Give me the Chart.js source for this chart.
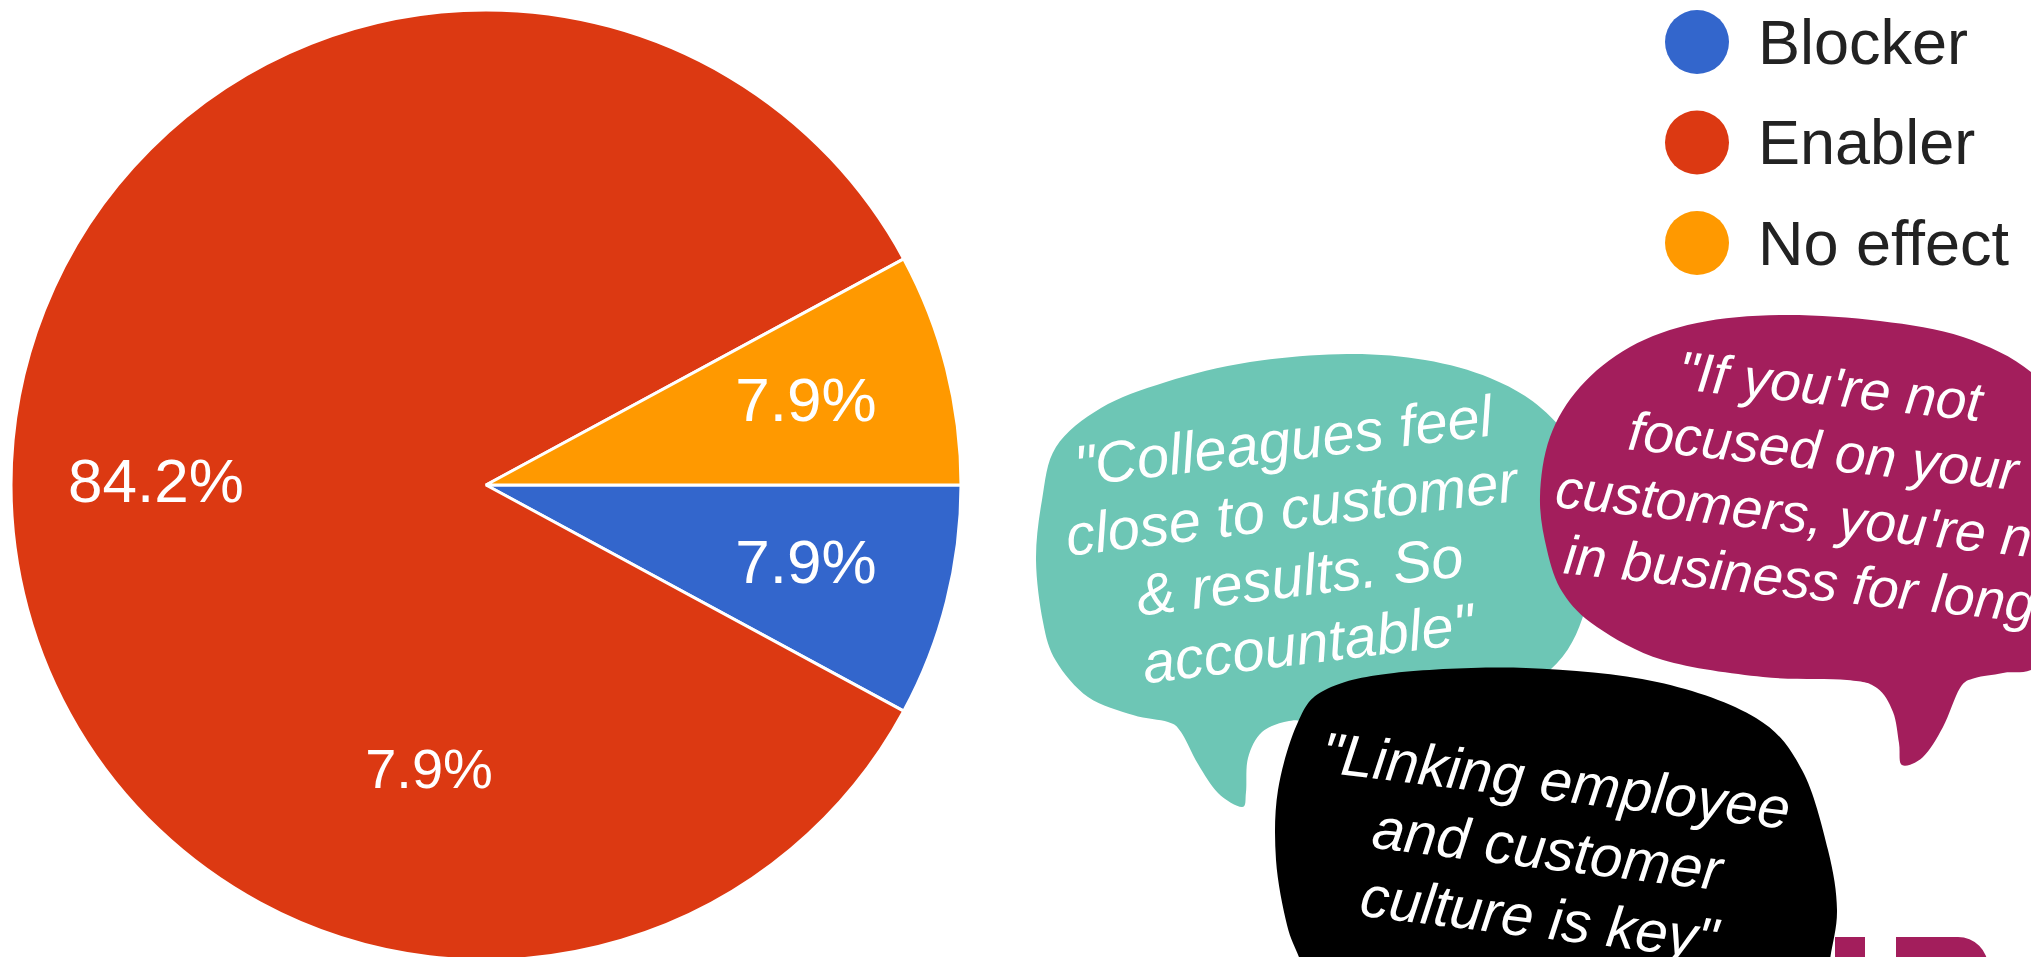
<!DOCTYPE html>
<html lang="en">
<head>
  <meta charset="utf-8">
  <title>Customer focus: blocker or enabler?</title>
  <style>
    html, body {
      margin: 0;
      padding: 0;
      background: #fff;
    }
    .stage {
      position: relative;
      width: 2031px;
      height: 957px;
      overflow: hidden;
    }
    #pieChart, #quotes {
      position: absolute;
      left: 0;
      top: 0;
    }
    #quotes text {
      font-family: "Liberation Sans", Arial, sans-serif;
      fill: #fff;
      text-anchor: middle;
    }
    #quotes .quote text {
      font-style: italic;
    }
  </style>
</head>
<body>
  <div class="stage">
    <canvas id="pieChart" width="2031" height="957" style="width:2031px;height:957px"></canvas>
    <svg id="quotes" width="2031" height="957" viewBox="0 0 2031 957"></svg>
  </div>

  <script src="https://cdn.jsdelivr.net/npm/chart.js"></script>
  <script>
    // Survey answers
    const categories = ['Blocker', 'Enabler', 'No effect'];
    const responses = [3, 32, 3];
    const sliceColors = ['#3366cc', '#dc3912', '#ff9900'];

    // Quotes shown in the speech bubbles
    const quoteGreen = ['"Colleagues feel', 'close to customer', '& results. So', 'accountable"'];
    const quotePurple = ['"If you\'re not', 'focused on your', 'customers, you\'re not', 'in business for long"'];
    const quoteBlack = ['"Linking employee', 'and customer', 'culture is key"'];

    const total = responses.reduce((a, b) => a + b, 0);
    function pct(v) {
      return (v / total * 100).toFixed(1) + '%';
    }

    // percentage written inside each slice
    const sliceLabels = {
      id: 'sliceLabels',
      afterDatasetsDraw(chart) {
        const ctx = chart.ctx;
        const meta = chart.getDatasetMeta(0);
        ctx.save();
        ctx.fillStyle = '#fff';
        ctx.font = '62px "Liberation Sans", Arial, sans-serif';
        ctx.textAlign = 'center';
        ctx.textBaseline = 'middle';
        meta.data.forEach((arc, i) => {
          const p = arc.getProps(['x', 'y', 'startAngle', 'endAngle', 'outerRadius'], true);
          const mid = (p.startAngle + p.endAngle) / 2;
          const r = p.outerRadius * 0.695;
          ctx.fillText(pct(responses[i]), p.x + Math.cos(mid) * r, p.y + Math.sin(mid) * r);
        });
        ctx.restore();
      }
    };

    // legend in the top right corner
    const sideLegend = {
      id: 'sideLegend',
      afterDraw(chart) {
        const ctx = chart.ctx;
        ctx.save();
        ctx.font = '63px "Liberation Sans", Arial, sans-serif';
        ctx.textAlign = 'left';
        ctx.textBaseline = 'alphabetic';
        categories.forEach((name, i) => {
          const y = 42 + i * 100.5;
          ctx.fillStyle = sliceColors[i];
          ctx.beginPath();
          ctx.arc(1697, y, 32, 0, Math.PI * 2);
          ctx.fill();
          ctx.fillStyle = '#222';
          ctx.fillText(name, 1758, y + 21.5);
        });
        ctx.restore();
      }
    };

    new Chart(document.getElementById('pieChart'), {
      type: 'pie',
      data: {
        labels: categories,
        datasets: [{
          data: responses,
          backgroundColor: sliceColors,
          borderColor: '#fff',
          borderWidth: 3
        }]
      },
      options: {
        responsive: false,
        animation: false,
        rotation: 90,
        radius: 475,
        layout: { padding: { left: 13, top: 13, right: 1072, bottom: 0 } },
        plugins: {
          legend: { display: false },
          tooltip: { enabled: false }
        }
      },
      plugins: [sliceLabels, sideLegend]
    });

    // ---- speech bubbles ----
    const NS = 'http://www.w3.org/2000/svg';
    const svg = document.getElementById('quotes');

    // closed catmull-rom curve through the outline points
    function smoothPath(pts) {
      const n = pts.length;
      let d = 'M' + pts[0][0] + ' ' + pts[0][1];
      for (let i = 0; i < n; i++) {
        const p0 = pts[(i - 1 + n) % n], p1 = pts[i], p2 = pts[(i + 1) % n], p3 = pts[(i + 2) % n];
        const c1x = p1[0] + (p2[0] - p0[0]) / 6, c1y = p1[1] + (p2[1] - p0[1]) / 6;
        const c2x = p2[0] - (p3[0] - p1[0]) / 6, c2y = p2[1] - (p3[1] - p1[1]) / 6;
        d += ' C' + c1x.toFixed(1) + ' ' + c1y.toFixed(1) + ' ' + c2x.toFixed(1) + ' ' + c2y.toFixed(1) + ' ' + p2[0] + ' ' + p2[1];
      }
      return d + 'Z';
    }

    function addShape(d, fill) {
      const path = document.createElementNS(NS, 'path');
      path.setAttribute('d', d);
      path.setAttribute('fill', fill);
      svg.appendChild(path);
    }

    function addQuote(lines, cx, cy, angle, size, gap) {
      const g = document.createElementNS(NS, 'g');
      g.setAttribute('class', 'quote');
      g.setAttribute('transform', 'translate(' + cx + ' ' + cy + ') rotate(' + angle + ')');
      g.setAttribute('font-size', size);
      lines.forEach((line, i) => {
        const t = document.createElementNS(NS, 'text');
        t.setAttribute('x', 0);
        t.setAttribute('y', (i - (lines.length - 1) / 2) * gap);
        t.textContent = line;
        g.appendChild(t);
      });
      svg.appendChild(g);
    }

    const greenOutline = [
      [1242, 807], [1218, 793], [1198, 764], [1181, 732], [1168, 722], [1133, 715],
      [1088, 697], [1056, 661], [1043, 622], [1036, 560], [1042, 500], [1056, 447],
      [1101, 408], [1166, 382], [1250, 362], [1347, 354], [1425, 360], [1490, 378],
      [1541, 408], [1578, 455], [1592, 530], [1585, 610], [1550, 670], [1470, 712],
      [1320, 720], [1289, 721], [1262, 732], [1248, 758], [1246, 792]
    ];
    const purpleOutline = [
      [1902, 765], [1923, 757], [1943, 727], [1960, 688], [1975, 678], [2003, 673],
      [2040, 664], [2075, 600], [2075, 430], [2031, 372], [1963, 337], [1880, 321],
      [1783, 315], [1697, 323], [1630, 347], [1580, 387], [1550, 437], [1540, 497],
      [1547, 550], [1563, 593], [1597, 627], [1663, 660], [1763, 677], [1847, 680],
      [1877, 688], [1893, 712], [1899, 743]
    ];
    const blackOutline = [
      [1312, 1000], [1300, 960], [1287, 925], [1276, 860], [1278, 790], [1298, 722],
      [1325, 690], [1394, 673], [1526, 668], [1657, 682], [1756, 718], [1802, 770],
      [1828, 850], [1837, 910], [1830, 960], [1826, 1000]
    ];

    addShape(smoothPath(greenOutline), '#6dc6b5');
    addQuote(quoteGreen, 1298, 562, -7, 58, 68);

    addShape(smoothPath(purpleOutline), '#a31e5c');
    addQuote(quotePurple, 1818, 502, 6, 55, 65);

    addShape(smoothPath(blackOutline), '#000');
    addQuote(quoteBlack, 1545, 869, 7, 58, 69);

    // tops of the big heading letters peeking in at the bottom edge
    addShape('M1835 960 V937 H1865 V960 Z', '#a31e5c');
    addShape('M1896 960 V937 H1958 A30 30 0 0 1 1988 967 V960 Z', '#a31e5c');

    // extra percentage stamped on the red slice
    const stamp = document.createElementNS(NS, 'text');
    stamp.setAttribute('x', 429);
    stamp.setAttribute('y', 788);
    stamp.setAttribute('font-size', 56);
    stamp.textContent = pct(responses[2]);
    svg.appendChild(stamp);
  </script>
</body>
</html>
